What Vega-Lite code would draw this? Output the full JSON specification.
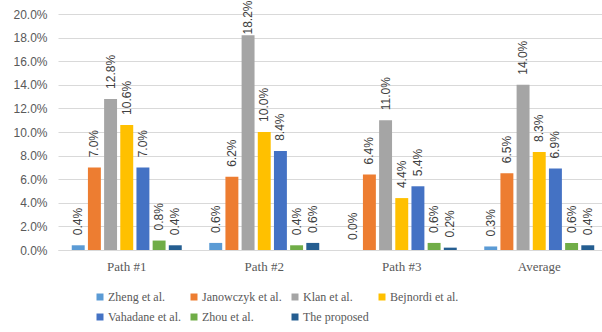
{
  "$schema": "https://vega.github.io/schema/vega-lite/v6.json",
  "width": 550,
  "height": 236,
  "autosize": {"type": "none"},
  "padding": {"left": 58, "top": 14, "right": 0, "bottom": 82},
  "background": "white",
  "config": {"view": {"stroke": null}},
  "data": {
    "values": [
      {"group": "Path #1", "series": "Zheng et al.", "value": 0.004},
      {"group": "Path #1", "series": "Janowczyk et al.", "value": 0.07},
      {"group": "Path #1", "series": "Klan et al.", "value": 0.128},
      {"group": "Path #1", "series": "Bejnordi et al.", "value": 0.106},
      {"group": "Path #1", "series": "Vahadane et al.", "value": 0.07},
      {"group": "Path #1", "series": "Zhou et al.", "value": 0.008},
      {"group": "Path #1", "series": "The proposed", "value": 0.004},
      {"group": "Path #2", "series": "Zheng et al.", "value": 0.006},
      {"group": "Path #2", "series": "Janowczyk et al.", "value": 0.062},
      {"group": "Path #2", "series": "Klan et al.", "value": 0.182},
      {"group": "Path #2", "series": "Bejnordi et al.", "value": 0.10},
      {"group": "Path #2", "series": "Vahadane et al.", "value": 0.084},
      {"group": "Path #2", "series": "Zhou et al.", "value": 0.004},
      {"group": "Path #2", "series": "The proposed", "value": 0.006},
      {"group": "Path #3", "series": "Zheng et al.", "value": 0.0},
      {"group": "Path #3", "series": "Janowczyk et al.", "value": 0.064},
      {"group": "Path #3", "series": "Klan et al.", "value": 0.11},
      {"group": "Path #3", "series": "Bejnordi et al.", "value": 0.044},
      {"group": "Path #3", "series": "Vahadane et al.", "value": 0.054},
      {"group": "Path #3", "series": "Zhou et al.", "value": 0.006},
      {"group": "Path #3", "series": "The proposed", "value": 0.002},
      {"group": "Average", "series": "Zheng et al.", "value": 0.003},
      {"group": "Average", "series": "Janowczyk et al.", "value": 0.065},
      {"group": "Average", "series": "Klan et al.", "value": 0.14},
      {"group": "Average", "series": "Bejnordi et al.", "value": 0.083},
      {"group": "Average", "series": "Vahadane et al.", "value": 0.069},
      {"group": "Average", "series": "Zhou et al.", "value": 0.006},
      {"group": "Average", "series": "The proposed", "value": 0.004}
    ]
  },
  "resolve": {"axis": {"y": "independent"}},
  "encoding": {
    "x": {
      "field": "group",
      "type": "nominal",
      "sort": ["Path #1", "Path #2", "Path #3", "Average"],
      "scale": {"paddingInner": 0.2, "paddingOuter": 0.1},
      "axis": {
        "title": null,
        "labelAngle": 0,
        "labelFont": "Liberation Serif",
        "labelFontSize": 13,
        "labelColor": "#595959",
        "labelPadding": 10,
        "ticks": false,
        "domainColor": "#d9d9d9",
        "domainWidth": 1,
        "grid": false
      }
    },
    "xOffset": {
      "field": "series",
      "type": "nominal",
      "sort": ["Zheng et al.", "Janowczyk et al.", "Klan et al.", "Bejnordi et al.", "Vahadane et al.", "Zhou et al.", "The proposed"],
      "scale": {"paddingInner": 0.2, "paddingOuter": 0}
    }
  },
  "layer": [
    {
      "mark": {"type": "bar"},
      "encoding": {
        "y": {
          "field": "value",
          "type": "quantitative",
          "scale": {"domain": [0, 0.2], "nice": false},
          "axis": {
            "title": null,
            "format": ".1%",
            "values": [0, 0.02, 0.04, 0.06, 0.08, 0.1, 0.12, 0.14, 0.16, 0.18, 0.2],
            "labelOverlap": false,
            "labelFont": "Liberation Sans",
            "labelFontSize": 12,
            "labelColor": "#595959",
            "labelPadding": 11,
            "ticks": false,
            "domain": false,
            "gridColor": "#d9d9d9",
            "gridWidth": 1
          }
        },
        "color": {
          "field": "series",
          "type": "nominal",
          "scale": {
            "domain": ["Zheng et al.", "Janowczyk et al.", "Klan et al.", "Bejnordi et al.", "Vahadane et al.", "Zhou et al.", "The proposed"],
            "range": ["#5B9BD5", "#ED7D31", "#A5A5A5", "#FFC000", "#4472C4", "#70AD47", "#255E91"]
          },
          "legend": {
            "title": null,
            "orient": "none",
            "legendX": 36,
            "legendY": 277,
            "direction": "horizontal",
            "columns": 4,
            "gridAlign": "each",
            "columnPadding": 7,
            "rowPadding": 8,
            "symbolType": "square",
            "symbolSize": 49,
            "symbolStrokeWidth": 0,
            "labelFont": "Liberation Serif",
            "labelFontSize": 12,
            "labelColor": "#595959",
            "labelOffset": 2,
            "labelLimit": 200
          }
        }
      }
    },
    {
      "transform": [
        {"calculate": "min(datum.value + 0.0085, 0.1826)", "as": "labelPos"}
      ],
      "mark": {
        "type": "text",
        "angle": 270,
        "align": "left",
        "baseline": "middle",
        "font": "Liberation Sans",
        "fontSize": 12,
        "color": "#404040"
      },
      "encoding": {
        "y": {"field": "labelPos", "type": "quantitative", "axis": null},
        "text": {"field": "value", "type": "quantitative", "format": ".1%"}
      }
    }
  ]
}
